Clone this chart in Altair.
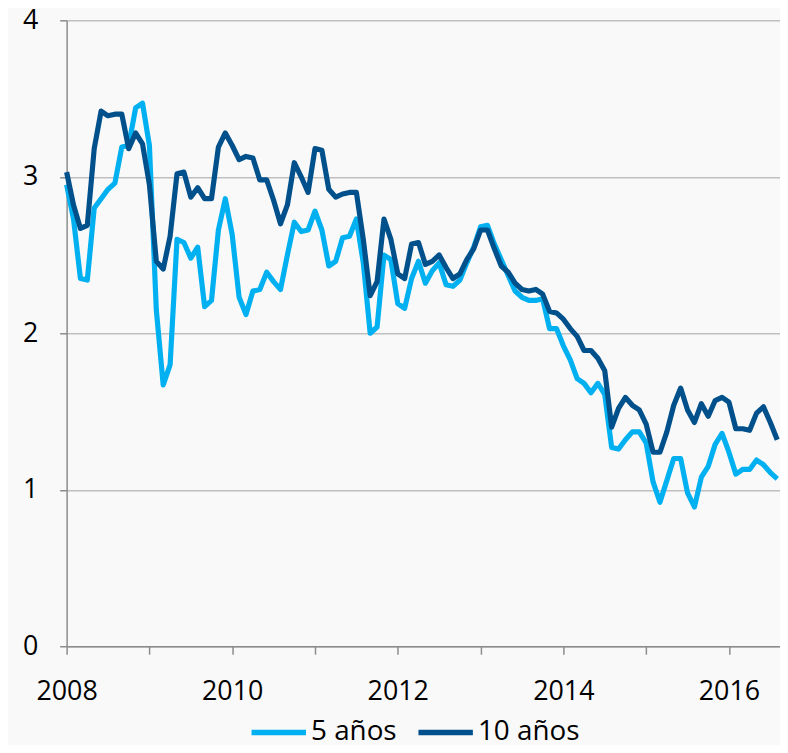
import altair as alt
import pandas as pd

# Monthly yields, Jan 2008 .. Aug 2016
start_month = "2008-01-01"
n_months = 104

yield_5y = [2.95, 2.73, 2.35, 2.34, 2.80, 2.86, 2.92, 2.96, 3.19, 3.20, 3.44, 3.47,
            3.20, 2.15, 1.67, 1.80, 2.60, 2.58, 2.48, 2.55, 2.17, 2.21, 2.66, 2.86,
            2.63, 2.23, 2.12, 2.27, 2.28, 2.39, 2.33, 2.28, 2.50, 2.71, 2.65, 2.66,
            2.78, 2.66, 2.43, 2.46, 2.61, 2.62, 2.73, 2.45, 2.00, 2.04, 2.50, 2.47,
            2.19, 2.16, 2.35, 2.46, 2.32, 2.40, 2.45, 2.31, 2.30, 2.34, 2.45, 2.55,
            2.68, 2.69, 2.57, 2.47, 2.37, 2.27, 2.23, 2.21, 2.21, 2.22, 2.03, 2.03,
            1.92, 1.83, 1.71, 1.68, 1.62, 1.68, 1.61, 1.27, 1.26, 1.32, 1.37, 1.37,
            1.30, 1.05, 0.92, 1.06, 1.20, 1.20, 0.98, 0.89, 1.08, 1.15, 1.29, 1.36,
            1.24, 1.10, 1.13, 1.13, 1.19, 1.16, 1.11, 1.07]

yield_10y = [3.03, 2.82, 2.67, 2.69, 3.18, 3.42, 3.39, 3.40, 3.40, 3.18, 3.28, 3.21,
             2.95, 2.46, 2.41, 2.62, 3.02, 3.03, 2.87, 2.93, 2.86, 2.86, 3.19, 3.28,
             3.20, 3.11, 3.13, 3.12, 2.98, 2.98, 2.85, 2.70, 2.82, 3.09, 3.00, 2.90,
             3.18, 3.17, 2.92, 2.87, 2.89, 2.90, 2.90, 2.60, 2.24, 2.33, 2.73, 2.60,
             2.38, 2.35, 2.57, 2.58, 2.44, 2.46, 2.50, 2.42, 2.35, 2.38, 2.47, 2.54,
             2.66, 2.66, 2.54, 2.43, 2.39, 2.32, 2.28, 2.27, 2.28, 2.25, 2.14, 2.13,
             2.09, 2.03, 1.98, 1.89, 1.89, 1.84, 1.76, 1.40, 1.52, 1.59, 1.54, 1.51,
             1.42, 1.24, 1.24, 1.37, 1.54, 1.65, 1.51, 1.43, 1.55, 1.47, 1.57, 1.59,
             1.56, 1.39, 1.39, 1.38, 1.49, 1.53, 1.43, 1.32]

series_names = ["5 años", "10 años"]
series_colors = ["#00B0F0", "#00508C"]
year_ticks = list(range(2008, 2017))
y_ticks = [0, 1, 2, 3, 4]

months = pd.date_range(start_month, periods=n_months, freq="MS")
t = months.year + (months.month - 1) / 12.0

df5 = pd.DataFrame({"t": t, "v": yield_5y, "serie": series_names[0]})
df10 = pd.DataFrame({"t": t, "v": yield_10y, "serie": series_names[1]})

FONT = "Open Sans"

x_enc = alt.X(
    "t:Q",
    scale=alt.Scale(domain=[2008, 2016 + 7.4 / 12], nice=False, zero=False),
    axis=alt.Axis(
        values=year_ticks, format="d",
        labelExpr="datum.value % 2 == 0 ? datum.label : ''",
        grid=False, domainColor="#8C8C8C", domainWidth=1.5,
        tickColor="#8C8C8C", tickWidth=1.5, tickSize=8,
        labelPadding=25, labelFont=FONT, labelFontSize=27, labelColor="#000000",
        labelAlign="center", title=None,
    ),
)
y_enc = alt.Y(
    "v:Q",
    scale=alt.Scale(domain=[0, 4], nice=False),
    axis=alt.Axis(
        values=y_ticks, format="d",
        grid=True, gridColor="#BFBFBF", gridWidth=1.5,
        domainColor="#8C8C8C", domainWidth=1.5,
        tickColor="#8C8C8C", tickWidth=1.5, tickSize=7,
        labelPadding=22, labelFont=FONT, labelFontSize=27, labelColor="#000000",
        title=None,
    ),
)
color_enc = alt.Color(
    "serie:N",
    scale=alt.Scale(domain=series_names, range=series_colors),
    legend=alt.Legend(
        title=None, orient="none", direction="horizontal",
        legendX=183, legendY=686,
        symbolType="stroke", symbolSize=3000, symbolStrokeWidth=5.5,
        labelFont=FONT, labelFontSize=28, labelColor="#000000",
        labelOffset=2, columnPadding=10, symbolOffset=0,
    ),
)

line5 = alt.Chart(df5).mark_line(strokeWidth=5.2, strokeJoin="round").encode(
    x=x_enc, y=y_enc, color=color_enc)
line10 = alt.Chart(df10).mark_line(strokeWidth=5.2, strokeJoin="round").encode(
    x=x_enc, y=y_enc, color=color_enc)

chart = (
    alt.layer(line5, line10)
    .properties(
        width=718, height=630,
        autosize=alt.AutoSizeParams(type="none"),
        padding={"left": 59, "top": 10, "right": 0, "bottom": 97},
        background="#F9F9F9",
    )
    .configure_view(stroke=None)
)

chart.save("out.html", embed_options={"renderer": "svg", "actions": False})
